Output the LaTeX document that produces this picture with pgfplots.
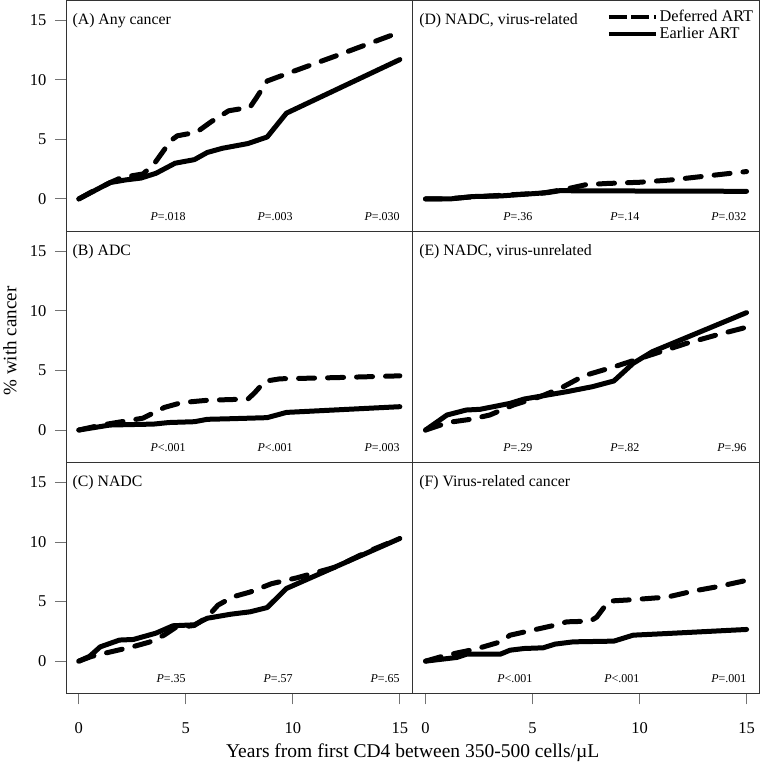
\documentclass[border=0pt]{standalone}
\usepackage{fontspec}
\setmainfont{Liberation Serif}
\usepackage{pgfplots}
\pgfplotsset{compat=1.18}

\pgfplotsset{
  panel/.style={
    scale only axis, width=346.7pt, height=231.1pt,
    anchor=north west,
    xmin=-0.6, xmax=15.6, ymin=-2.7, ymax=16.7,
    xtick=\empty, ytick=\empty,
    xtick pos=bottom, ytick pos=left,
    tick align=outside, major tick length=11pt,
    tick style={black!55, line width=1pt},
    axis line style={black!80, line width=0.8pt},
    tick label style={font=\fontsize{16.5}{18}\selectfont},
    xticklabel style={yshift=-14.5pt},
    yticklabel style={xshift=-5pt},
    /pgf/number format/assume math mode=true,
    clip=false,
  },
  leftcol/.style={ytick={0,5,10,15}},
  bottomrow/.style={xtick={0,5,10,15}},
  earlier/.style={black, line width=5pt, line join=round, line cap=round},
  deferred/.style={black, line width=5pt, line join=round, line cap=round, dash pattern=on 16pt off 13pt},
}
\tikzset{
  ptext/.style={anchor=east, inner sep=0pt, font=\fontsize{12}{14}\selectfont},
  ttext/.style={anchor=west, inner sep=0pt, font=\fontsize{15.8}{18}\selectfont},
}
\newcommand{\pv}[1]{\textit{P}#1}

\begin{document}
\begin{tikzpicture}
\useasboundingbox (0pt,0pt) rectangle (760pt,-764pt);

% (A) Any cancer
\begin{axis}[panel, leftcol, at={(66pt,0pt)}]
\addplot[deferred] coordinates {(0,0) (0.5,0.5) (1.5,1.4) (2,1.8) (3,2.1) (3.5,2.9) (4.3,4.9) (4.6,5.3) (5.5,5.6) (6.2,6.5) (7,7.4) (8,7.7) (8.3,8.5) (8.8,9.9) (9.7,10.5) (12,12.0) (15,14.0)};
\addplot[earlier] coordinates {(0,0) (1.45,1.37) (2.2,1.6) (2.9,1.75) (3.6,2.15) (4.5,3.0) (5.4,3.3) (6,3.9) (6.7,4.25) (7.9,4.65) (8.8,5.2) (9.7,7.2) (15,11.7)};
\node[ttext] at (axis cs:-0.3,15) {(A) Any cancer};
\node[ptext] at (axis cs:5,-1.5) {\pv{=.018}};
\node[ptext] at (axis cs:10,-1.5) {\pv{=.003}};
\node[ptext] at (axis cs:15,-1.5) {\pv{=.030}};
\end{axis}

% (B) ADC
\begin{axis}[panel, leftcol, at={(66pt,-231.1pt)}]
\addplot[deferred] coordinates {(0,0) (1,0.4) (2,0.7) (3,1.0) (4,1.9) (4.8,2.3) (6,2.5) (7.9,2.6) (8.2,3.1) (8.7,4.1) (9.4,4.3) (12,4.4) (15,4.55)};
\addplot[earlier] coordinates {(0,0) (1.45,0.42) (3.5,0.5) (4.2,0.63) (5.4,0.7) (6,0.9) (7.1,0.95) (8.8,1.04) (9.7,1.48) (15,1.96)};
\node[ttext] at (axis cs:-0.3,15) {(B) ADC};
\node[ptext] at (axis cs:5,-1.5) {\pv{<.001}};
\node[ptext] at (axis cs:10,-1.5) {\pv{<.001}};
\node[ptext] at (axis cs:15,-1.5) {\pv{=.003}};
\end{axis}

% (C) NADC
\begin{axis}[panel, leftcol, bottomrow, at={(66pt,-462.2pt)}]
\addplot[deferred] coordinates {(0,0) (0.6,0.4) (1.3,0.7) (2.5,1.2) (3.3,1.6) (4,2.2) (4.5,2.8) (5.4,3.0) (6,3.7) (6.5,4.7) (7.2,5.4) (8,5.8) (9,6.5) (10.2,7.0) (12,7.9) (13.5,9.2) (15,10.3)};
\addplot[earlier] coordinates {(0,0) (0.5,0.4) (1,1.2) (1.9,1.77) (2.55,1.82) (3.6,2.35) (4.4,2.97) (5.4,3.05) (6,3.6) (7.1,3.94) (8,4.14) (8.8,4.5) (9.7,6.1) (15,10.3)};
\node[ttext] at (axis cs:-0.3,15) {(C) NADC};
\node[ptext] at (axis cs:5,-1.5) {\pv{=.35}};
\node[ptext] at (axis cs:10,-1.5) {\pv{=.57}};
\node[ptext] at (axis cs:15,-1.5) {\pv{=.65}};
\end{axis}

% (D) NADC, virus-related
\begin{axis}[panel, at={(412.7pt,0pt)},
  legend style={draw=none, fill=none, at={(1,1)}, anchor=north east, xshift=-3pt, yshift=-7pt,
    font=\fontsize{16.3}{18}\selectfont, row sep=0.5pt, inner sep=1pt},
  legend cell align=left,
  legend image code/.code={\draw[#1, line cap=butt] (0pt,0pt) -- (46.7pt,0pt);}]
\addlegendimage{black, line width=4pt, dash pattern=on 18pt off 4.5pt}
\addlegendentry{Deferred ART}
\addlegendimage{black, line width=4pt}
\addlegendentry{Earlier ART}
\addplot[deferred, forget plot] coordinates {(0,0) (1,0) (2,0.15) (3,0.25) (4,0.35) (5.5,0.5) (6.5,0.8) (7.5,1.2) (8.5,1.3) (10,1.4) (11.5,1.6) (13.5,2.0) (15,2.3)};
\addplot[earlier, forget plot] coordinates {(0,0) (1.15,0) (2.2,0.2) (3.5,0.25) (5.7,0.53) (6.3,0.7) (7.1,0.68) (15,0.64)};
\node[ttext] at (axis cs:-0.3,15) {(D) NADC, virus-related};
\node[ptext] at (axis cs:5,-1.5) {\pv{=.36}};
\node[ptext] at (axis cs:10,-1.5) {\pv{=.14}};
\node[ptext] at (axis cs:15,-1.5) {\pv{=.032}};
\end{axis}

% (E) NADC, virus-unrelated
\begin{axis}[panel, at={(412.7pt,-231.1pt)}]
\addplot[deferred] coordinates {(0,0) (0.7,0.42) (1.3,0.7) (2.1,0.9) (3,1.26) (4.1,2.1) (5.35,2.8) (6.3,3.5) (7.4,4.56) (8.8,5.3) (10,6.0) (12.2,7.28) (13.6,7.98) (15,8.63)};
\addplot[earlier] coordinates {(0,0) (1,1.26) (1.9,1.68) (2.55,1.74) (3.95,2.24) (4.6,2.6) (5.5,2.88) (6.6,3.22) (7.8,3.64) (8.8,4.12) (9.7,5.6) (10.6,6.58) (15,9.86)};
\node[ttext] at (axis cs:-0.3,15) {(E) NADC, virus-unrelated};
\node[ptext] at (axis cs:5,-1.5) {\pv{=.29}};
\node[ptext] at (axis cs:10,-1.5) {\pv{=.82}};
\node[ptext] at (axis cs:15,-1.5) {\pv{=.96}};
\end{axis}

% (F) Virus-related cancer
\begin{axis}[panel, bottomrow, at={(412.7pt,-462.2pt)}]
\addplot[deferred] coordinates {(0,0) (0.7,0.36) (1.5,0.7) (2.1,0.92) (2.7,1.2) (3.5,1.62) (3.95,2.18) (5.35,2.74) (6,3.0) (6.6,3.3) (7.7,3.36) (8,3.7) (8.56,5.04) (9.6,5.15) (11.3,5.38) (12.5,5.88) (13.7,6.27) (15,6.78)};
\addplot[earlier] coordinates {(0,0) (1.46,0.31) (1.93,0.59) (3.5,0.59) (3.95,0.92) (4.6,1.06) (5.5,1.12) (6.05,1.43) (6.9,1.62) (8.8,1.68) (9.7,2.18) (11.3,2.32) (15,2.66)};
\node[ttext] at (axis cs:-0.3,15) {(F) Virus-related cancer};
\node[ptext] at (axis cs:5,-1.5) {\pv{<.001}};
\node[ptext] at (axis cs:10,-1.5) {\pv{<.001}};
\node[ptext] at (axis cs:15,-1.5) {\pv{=.001}};
\end{axis}

\node[rotate=90, font=\fontsize{19}{22}\selectfont] at (10pt,-341pt) {\% with cancer};
\node[font=\fontsize{19.5}{22}\selectfont] at (412.7pt,-753pt) {Years from first CD4 between 350-500 cells/µL};
\end{tikzpicture}
\end{document}
